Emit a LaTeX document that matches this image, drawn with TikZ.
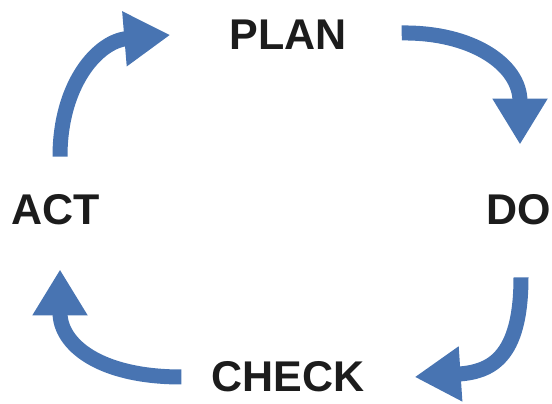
\documentclass[tikz,border=0pt]{standalone}
\usepackage{fontspec}
\setsansfont{Liberation Sans}
\usetikzlibrary{arrows.meta}
\definecolor{cycblue}{RGB}{72,116,178}
\definecolor{inkgray}{RGB}{28,28,28}

\begin{document}
\begin{tikzpicture}[
  x=1pt, y=1pt,
  font=\sffamily\bfseries,
  stage/.style={inner sep=0pt, text=inkgray, font=\sffamily\bfseries\fontsize{43}{43}\selectfont},
  flow/.style={-{Triangle[length=46pt, width=52pt]}, line width=15pt, draw=cycblue}
]
\useasboundingbox (0,0) rectangle (552,404);

\node[stage] (plan)  at (288,369) {PLAN};
\node[stage] (do)    at (519,194) {DO};
\node[stage] (check) at (288,27)  {CHECK};
\node[stage] (act)   at (56,194)  {ACT};

% the four turns of the cycle
\draw[flow] ([shift={(55pt,2pt)}]plan.east)
  .. controls +(70,1) and +(0,80) .. ([shift={(1pt,50pt)}]do.north);
\draw[flow] ([shift={(2pt,-52pt)}]do.south)
  .. controls +(0,-82) and +(75,5) .. ([xshift=50pt]check.east);
\draw[flow] ([xshift=-30pt]check.west)
  .. controls +(-82,0) and +(0,-75) .. ([shift={(4pt,-44pt)}]act.south);
\draw[flow] ([shift={(4pt,38pt)}]act.north)
  .. controls +(0,73) and +(-72,-6) .. ([xshift=-59pt]plan.west);

\end{tikzpicture}
\end{document}
